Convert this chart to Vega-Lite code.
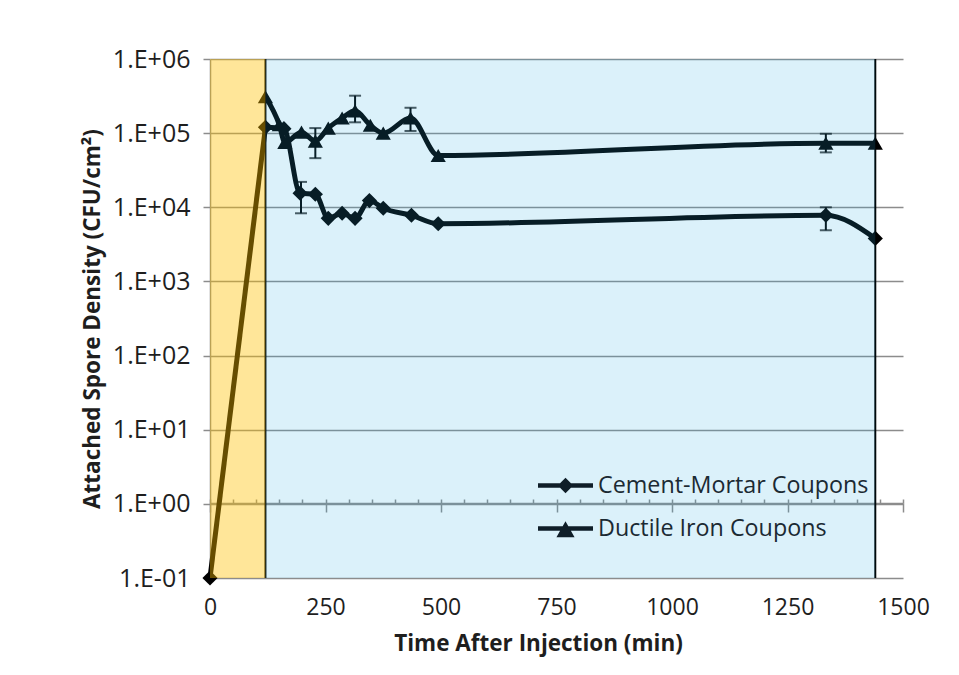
{
  "$schema": "https://vega.github.io/schema/vega-lite/v6.json",
  "width": 693,
  "height": 519,
  "autosize": {"type": "none"},
  "padding": {"left": 210, "top": 59, "right": 56, "bottom": 97},
  "background": "white",
  "config": {
    "view": {"stroke": null},
    "font": "Open Sans",
    "axis": {"labelColor": "#1e1e1e", "titleColor": "#1e1e1e", "labelFont": "Open Sans", "titleFont": "Open Sans"}
  },
  "datasets": {
    "rise": [
      {"series": "Cement-Mortar Coupons", "t": 0, "v": 0.1},
      {"series": "Cement-Mortar Coupons", "t": 120, "v": 120000}
    ],
    "series": [
      {"series": "Cement-Mortar Coupons", "t": 0, "v": 0.1},
      {"series": "Cement-Mortar Coupons", "t": 120, "v": 120000},
      {"series": "Cement-Mortar Coupons", "t": 160, "v": 115000},
      {"series": "Cement-Mortar Coupons", "t": 195, "v": 15500},
      {"series": "Cement-Mortar Coupons", "t": 228, "v": 15000},
      {"series": "Cement-Mortar Coupons", "t": 256, "v": 7100},
      {"series": "Cement-Mortar Coupons", "t": 286, "v": 8300},
      {"series": "Cement-Mortar Coupons", "t": 314, "v": 7100},
      {"series": "Cement-Mortar Coupons", "t": 345, "v": 12300},
      {"series": "Cement-Mortar Coupons", "t": 375, "v": 9700},
      {"series": "Cement-Mortar Coupons", "t": 436, "v": 7800},
      {"series": "Cement-Mortar Coupons", "t": 494, "v": 6000},
      {"series": "Cement-Mortar Coupons", "t": 1333, "v": 7800},
      {"series": "Cement-Mortar Coupons", "t": 1440, "v": 3800},
      {"series": "Ductile Iron Coupons", "t": 120, "v": 310000},
      {"series": "Ductile Iron Coupons", "t": 150, "v": 130000},
      {"series": "Ductile Iron Coupons", "t": 162, "v": 75000},
      {"series": "Ductile Iron Coupons", "t": 198, "v": 103000},
      {"series": "Ductile Iron Coupons", "t": 228, "v": 78000},
      {"series": "Ductile Iron Coupons", "t": 256, "v": 117000},
      {"series": "Ductile Iron Coupons", "t": 286, "v": 160000},
      {"series": "Ductile Iron Coupons", "t": 314, "v": 200000},
      {"series": "Ductile Iron Coupons", "t": 347, "v": 128000},
      {"series": "Ductile Iron Coupons", "t": 375, "v": 100000},
      {"series": "Ductile Iron Coupons", "t": 434, "v": 160000},
      {"series": "Ductile Iron Coupons", "t": 494, "v": 50000},
      {"series": "Ductile Iron Coupons", "t": 1333, "v": 73000},
      {"series": "Ductile Iron Coupons", "t": 1440, "v": 73000}
    ],
    "err": [
      {"series": "Cement-Mortar Coupons", "t": 197, "lo": 8300, "hi": 22000},
      {"series": "Cement-Mortar Coupons", "t": 1333, "lo": 4900, "hi": 10000},
      {"series": "Ductile Iron Coupons", "t": 228, "lo": 46000, "hi": 117000},
      {"series": "Ductile Iron Coupons", "t": 314, "lo": 140000, "hi": 320000},
      {"series": "Ductile Iron Coupons", "t": 434, "lo": 107000, "hi": 220000},
      {"series": "Ductile Iron Coupons", "t": 1333, "lo": 55000, "hi": 98000}
    ],
    "bands": [
      {"band": "Injection", "start": 0, "end": 120},
      {"band": "After", "start": 120, "end": 1440}
    ],
    "edges": [{"t": 120}, {"t": 1440}],
    "legendrows": [
      {"series": "Cement-Mortar Coupons", "t": 0, "v": 0.1},
      {"series": "Ductile Iron Coupons", "t": 0, "v": 0.1}
    ]
  },
  "layer": [
    {
      "data": {"name": "edges"},
      "mark": {"type": "rule", "color": "#000000", "strokeWidth": 2},
      "encoding": {
        "x": {
          "field": "t", "type": "quantitative",
          "scale": {"domain": [0, 1500], "nice": false, "zero": false},
          "axis": {"orient": "bottom", "offset": -75, "labels": false, "title": null, "grid": false,
            "domain": true, "domainColor": "#8c8c8c", "domainWidth": 1.5,
            "ticks": true, "tickColor": "#8c8c8c", "tickWidth": 1.5, "tickSize": 9,
            "values": [0, 250, 500, 750, 1000, 1250, 1500]}
        }
      }
    },
    {
      "data": {"name": "rise"},
      "mark": {"type": "line", "color": "#000000", "strokeWidth": 5},
      "encoding": {
        "x": {"field": "t", "type": "quantitative", "axis": null},
        "y": {"field": "v", "type": "quantitative", "title": "Attached Spore Density (CFU/cm²)"}
      }
    },
    {
      "data": {"name": "series"},
      "transform": [{"filter": "datum.t >= 120"}],
      "mark": {"type": "line", "color": "#000000", "strokeWidth": 5, "interpolate": "monotone"},
      "encoding": {
        "x": {
          "field": "t", "type": "quantitative",
          "scale": {"domain": [0, 1500], "nice": false, "zero": false},
          "axis": {"orient": "bottom", "title": "Time After Injection (min)", "grid": false, "domain": false, "ticks": false,
            "values": [0, 250, 500, 750, 1000, 1250, 1500], "format": "d", "labelFlush": false,
            "labelFontSize": 23, "labelPadding": 18,
            "titleFontSize": 22.5, "titleFontWeight": "bold", "titlePadding": 13, "titleX": 328}
        },
        "y": {
          "field": "v", "type": "quantitative",
          "scale": {"type": "log", "domain": [0.1, 1000000], "nice": false},
          "axis": {"title": "Attached Spore Density (CFU/cm²)",
            "values": [0.1, 1, 10, 100, 1000, 10000, 100000, 1000000],
            "labelExpr": "'1.E' + (datum.value < 1 ? '-' : '+') + '0' + abs(round(log(datum.value) / LN10))",
            "labelFontSize": 25, "labelPadding": 13, "tickSize": 7, "tickColor": "#8c8c8c", "tickWidth": 1.5,
            "domain": true, "domainColor": "#8c8c8c", "domainWidth": 1.5,
            "grid": true, "gridColor": "#8c8c8c", "gridWidth": 1.5,
            "titleFontSize": 22.5, "titleFontWeight": "bold", "titlePadding": 8}
        },
        "detail": {"field": "series"}
      }
    },
    {
      "data": {"name": "err"},
      "mark": {"type": "errorbar", "color": "#000000", "thickness": 2, "ticks": {"size": 12, "thickness": 2}},
      "encoding": {
        "x": {"field": "t", "type": "quantitative", "axis": null},
        "y": {"field": "lo", "type": "quantitative", "title": "Attached Spore Density (CFU/cm²)"},
        "y2": {"field": "hi"}
      }
    },
    {
      "data": {"name": "series"},
      "mark": {"type": "point", "filled": true, "color": "#000000", "size": 230, "opacity": 1},
      "encoding": {
        "x": {"field": "t", "type": "quantitative", "axis": null},
        "y": {"field": "v", "type": "quantitative", "title": "Attached Spore Density (CFU/cm²)"},
        "shape": {"field": "series", "type": "nominal",
          "scale": {"domain": ["Cement-Mortar Coupons", "Ductile Iron Coupons"], "range": ["diamond", "triangle-up"]},
          "legend": null}
      }
    },
    {
      "data": {"name": "legendrows"},
      "mark": {"type": "point", "filled": true, "color": "#0f1e28", "size": 0, "opacity": 0},
      "encoding": {
        "x": {"field": "t", "type": "quantitative", "axis": null},
        "y": {"field": "v", "type": "quantitative", "title": "Attached Spore Density (CFU/cm²)"},
        "shape": {"field": "series", "type": "nominal",
          "scale": {"domain": ["Cement-Mortar Coupons", "Ductile Iron Coupons"],
            "range": ["M-1,-0.085H1V0.085H-1Z M0,-0.28L0.28,0L0,0.28L-0.28,0Z", "M-1,-0.085H1V0.085H-1Z M0,-0.26L0.33,0.32L-0.33,0.32Z"]},
          "legend": {"title": null, "orient": "none", "legendX": 328, "legendY": 399, "padding": 0,
            "symbolSize": 3025, "symbolStrokeWidth": 0, "symbolFillColor": "#0f1e28", "symbolStrokeColor": "#0f1e28",
            "symbolOpacity": 1, "labelFontSize": 23.3, "labelFont": "Open Sans", "labelColor": "#1b2a33", "labelOffset": 5,
            "rowPadding": 4, "labelLimit": 400}}
      }
    },
    {
      "data": {"name": "bands"},
      "mark": {"type": "rect"},
      "encoding": {
        "x": {"field": "start", "type": "quantitative",
          "axis": {"orient": "bottom", "offset": -75, "labels": false, "title": null, "grid": false, "domain": false,
            "ticks": true, "tickColor": "#8c8c8c", "tickWidth": 1.5, "tickSize": -4,
            "values": [0, 50, 100, 150, 200, 250, 300, 350, 400, 450, 500, 550, 600, 650, 700, 750, 800, 850, 900, 950, 1000, 1050, 1100, 1150, 1200, 1250, 1300, 1350, 1400, 1450, 1500]}},
        "x2": {"field": "end"},
        "color": {"field": "band", "type": "nominal",
          "scale": {"domain": ["Injection", "After"], "range": ["rgba(255,192,0,0.4)", "rgba(40,170,225,0.17)"]},
          "legend": null}
      }
    }
  ],
  "resolve": {"scale": {"shape": "independent"}, "axis": {"x": "independent"}}
}
